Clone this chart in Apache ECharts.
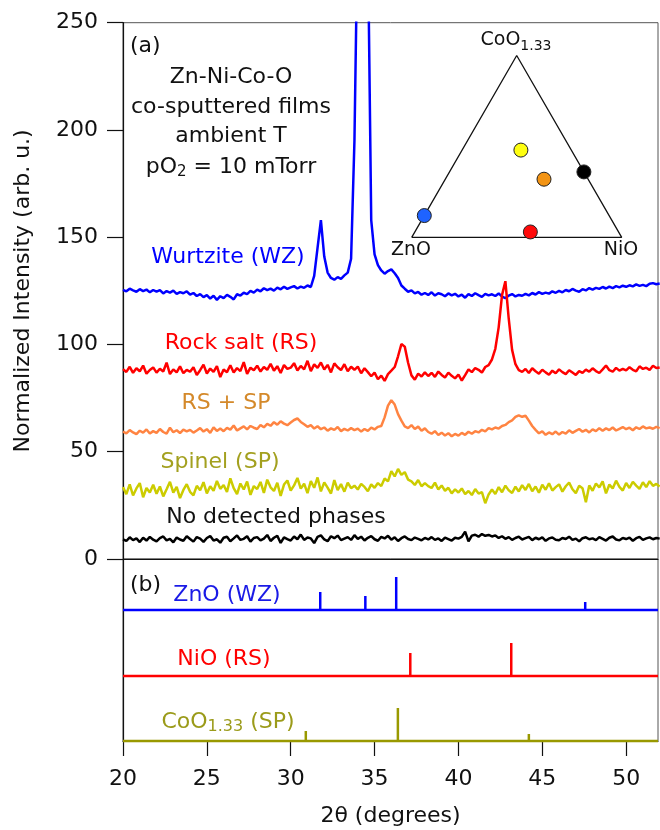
<!DOCTYPE html>
<html>
<head>
<meta charset="utf-8">
<script src="https://cdn.jsdelivr.net/npm/echarts@6.0.0/dist/echarts.min.js"></script>
<style>
html, body { margin: 0; padding: 0; background: #fff; }
#chart { width: 660px; height: 830px; }
</style>
</head>
<body>
<div id="chart"></div>
<script>
// 2theta sampling of the scans (0.2 deg steps, 20 -> 52)
var twoTheta = [];
for (var i = 0; i <= 160; i++) twoTheta.push(+(20 + i * 0.2).toFixed(1));

// (a) measured patterns, one value per 2theta step
var wzTrace = [
  125.5, 124.8, 126.0, 125.2, 124.6, 125.8, 124.9, 125.6, 124.3, 125.4,
  124.6, 125.3, 123.8, 124.9, 124.2, 125.1, 123.6, 124.4, 123.9, 124.8,
  123.2, 124.0, 122.6, 123.5, 122.1, 123.0, 121.4, 122.7, 120.8, 122.5,
  121.6, 123.1, 122.2, 121.0, 123.4, 122.8, 124.1, 123.5, 125.0, 124.2,
  125.6, 124.8, 126.2, 125.3, 126.0, 125.1, 126.5, 125.7, 126.9, 125.9,
  126.6, 127.2, 126.1, 127.0, 126.4, 127.5, 126.8, 132.0, 145.0, 158.0,
  141.0, 133.5, 131.0, 130.2, 131.4, 130.6, 132.2, 133.5, 140.0, 195.0,
  300.0, 420.0, 440.0, 290.0, 158.0, 142.0, 137.0, 134.5, 133.0, 134.2,
  135.0, 133.2, 131.0, 127.5, 126.0, 124.6, 125.2, 123.8, 124.5, 123.2,
  124.0, 123.1, 124.3, 122.8, 123.9, 123.4, 122.5, 123.8, 122.9, 123.6,
  122.4, 123.2, 121.8, 123.5, 122.6, 123.9, 123.0, 122.2, 123.6, 122.9,
  123.4, 122.6, 123.8, 122.3, 121.6, 122.8, 123.5, 122.4, 123.1, 122.7,
  123.6, 122.9, 124.0, 123.3, 124.4, 123.6, 124.2, 123.7, 124.8, 124.1,
  125.0, 124.3, 125.4, 124.8, 125.9, 125.1, 124.6, 125.8, 125.2, 126.3,
  125.6, 126.4, 125.9, 126.8, 126.1, 127.0, 126.3, 127.2, 126.6, 127.4,
  126.9, 127.6, 127.1, 128.0, 127.3, 127.8, 127.2, 128.3, 128.6, 128.1,
  128.4
];
var rsTrace = [
  88.5, 87.2, 89.6, 86.8, 88.9, 87.5, 90.2, 86.4, 88.1, 89.3,
  86.9, 88.7, 87.4, 91.5, 86.2, 88.4, 87.0, 89.8, 86.6, 88.2,
  87.3, 89.4, 85.8, 88.0, 90.6, 86.5, 88.8, 87.2, 89.9, 84.8,
  88.3, 87.1, 90.3, 86.9, 89.0, 87.6, 91.8, 86.3, 89.2, 88.0,
  90.1, 87.4, 89.5, 88.2, 91.0, 87.8, 89.9, 86.7, 90.4, 88.6,
  89.2, 91.3, 87.9, 90.0, 88.4, 92.4, 87.6, 90.7, 89.1, 91.6,
  88.3, 90.5, 87.0, 91.2, 89.4, 88.1, 90.8, 87.5, 89.6, 88.2,
  89.7, 86.6, 88.9, 87.1, 85.2, 86.9, 83.8, 85.5, 83.0, 86.2,
  87.8, 89.5, 94.5, 100.2, 99.0, 91.5, 85.6, 83.6, 86.4, 85.1,
  87.0, 85.3, 86.8, 84.9, 87.4, 85.8, 84.6, 86.9, 85.4, 84.2,
  86.0, 83.2, 85.7, 88.4, 87.1, 89.0, 88.2, 86.9, 89.5, 90.4,
  93.0, 98.0, 108.0, 123.0, 129.5, 112.0, 97.5, 90.8, 88.0, 87.2,
  88.6, 86.7, 88.9, 87.5, 86.4, 88.2, 87.0, 85.9, 87.8, 86.6,
  88.4, 87.1, 86.2, 88.0, 86.9, 85.8, 87.6, 86.8, 88.3, 87.3,
  88.9, 87.6, 86.7, 88.4, 90.2, 88.0, 87.3, 89.1, 87.8, 88.6,
  87.9, 89.4, 88.2, 87.5, 89.8, 88.6, 89.2, 88.1, 90.1, 89.0,
  89.3
];
var rsspTrace = [
  59.4, 58.6, 60.1, 59.0, 58.2, 59.8, 58.9, 60.4, 58.5, 59.6,
  58.8, 60.6, 59.2, 58.4, 61.2, 59.1, 60.0, 58.7, 60.3, 59.5,
  60.2, 58.9, 59.9, 61.0, 59.4, 60.5, 58.8, 61.4, 59.7, 60.8,
  59.6, 61.1, 60.3, 62.2, 59.9, 60.9, 61.8, 60.4, 62.0, 61.2,
  60.6, 62.5, 61.4, 63.0, 62.1, 63.8, 62.6, 64.2, 63.1, 62.4,
  63.6, 64.8, 65.5, 63.9, 62.8, 61.6, 62.4, 60.8, 61.9, 60.5,
  61.3, 59.8, 60.9, 60.2, 61.5, 59.6, 60.7, 59.9, 61.0, 60.1,
  60.8, 59.4, 60.6, 59.7, 61.2, 60.4, 61.6, 62.0, 66.0, 71.5,
  74.0, 72.0, 67.5, 64.5, 61.8, 61.0, 62.4, 60.6, 61.7, 59.8,
  60.9, 59.2, 58.4, 59.6, 57.8, 58.9, 57.6, 58.6, 57.2, 58.3,
  57.5, 58.8, 57.9, 59.3, 58.4, 59.6, 59.0, 60.2, 59.5, 61.0,
  60.4, 61.3, 60.8, 62.0, 62.5, 63.8, 64.6, 66.2, 67.0, 66.3,
  66.8, 64.5, 62.0, 60.2, 58.6, 59.5, 57.9, 59.0, 58.2, 59.4,
  58.0, 59.2, 58.4, 60.0, 58.8, 59.7, 60.6, 59.3, 60.2, 59.0,
  60.4, 59.6, 61.0, 59.8, 60.9, 60.1, 61.3, 59.9, 60.7, 61.5,
  60.5, 61.2, 60.0, 61.4, 60.6, 61.8, 60.9, 61.3, 60.7, 61.6,
  61.0
];
var spTrace = [
  33.5, 30.2, 34.8, 29.6, 32.9, 35.4, 28.8, 33.1, 31.0, 34.6,
  30.4, 33.8, 29.2, 32.5, 36.0, 30.9, 33.6, 28.4, 32.2, 34.9,
  31.3, 29.7, 34.1, 32.0, 35.8, 30.6, 33.9, 31.8, 36.4, 32.7,
  34.5, 31.2, 37.6, 33.0, 30.3, 35.2, 32.4, 36.1, 29.9, 34.0,
  32.6, 35.9, 30.8, 37.0, 33.4, 31.7, 35.5, 29.4, 34.7, 36.6,
  31.9, 34.3, 37.8, 32.8, 35.1, 30.7, 36.3, 33.2, 38.0, 31.5,
  35.7, 33.3, 30.5, 36.8, 32.1, 34.9, 31.4, 35.6, 33.0, 34.2,
  32.4, 35.0, 33.6, 31.6, 34.8, 33.2, 35.4, 34.0, 37.5, 36.2,
  41.0, 38.5, 42.0, 39.2, 40.5, 37.0, 36.2, 34.5, 36.8, 33.9,
  35.4, 34.0, 33.1, 35.6, 32.4, 34.3, 31.8, 33.2, 30.6, 32.5,
  31.0, 32.9, 30.2, 31.7, 29.8, 32.6, 30.5, 31.2, 26.0, 30.1,
  32.4, 30.3, 33.5, 31.1, 34.2, 32.0, 30.8, 33.7, 31.5, 34.4,
  32.2, 35.0, 31.6, 33.8, 30.9, 34.6, 32.3, 35.3, 31.9, 33.5,
  34.8, 31.4, 33.9, 35.6, 32.5, 30.7, 34.1, 33.0, 26.5, 34.3,
  31.8, 35.2, 33.4, 36.2, 30.6, 34.7, 32.9, 36.5, 33.6, 31.9,
  35.4, 33.1, 36.0, 34.2, 32.7, 35.8, 33.5, 36.3, 34.1, 35.0,
  33.8
];
var ndTrace = [
  9.2, 8.4, 10.1, 8.8, 9.6, 7.9, 9.9, 8.6, 10.3, 9.0,
  8.2, 9.7, 10.5, 8.7, 9.4, 7.8, 10.0, 9.1, 8.5, 10.6,
  9.3, 8.1, 10.2, 9.5, 8.0, 9.8, 10.7, 8.6, 9.2, 7.6,
  9.9, 10.4, 8.3, 9.6, 11.0, 8.9, 9.4, 10.6, 8.1, 9.8,
  10.2, 8.7, 9.5, 11.2, 8.4, 9.9, 10.8, 7.5, 10.1, 9.3,
  8.6, 10.5, 9.2, 11.4, 8.9, 10.0, 9.6, 7.4, 10.3, 11.0,
  9.1, 8.3, 10.6, 9.7, 10.9, 8.8, 9.5, 10.2, 8.9, 11.1,
  9.4, 10.4, 8.6, 9.9, 10.7, 9.2, 8.5, 10.3, 9.6, 10.8,
  9.0, 10.1, 8.4, 9.7, 10.5, 9.3, 8.8, 10.0, 9.4, 8.7,
  9.8, 9.1, 10.2, 8.9, 9.6, 8.4, 10.0, 9.3, 8.6, 9.9,
  9.5, 10.3, 12.8, 8.2, 10.9, 11.3, 10.4, 11.6, 10.8, 11.2,
  10.5, 11.0, 9.8, 10.6, 9.4, 10.2, 8.9, 9.8, 10.4, 9.1,
  9.7, 10.3, 8.8, 9.9, 9.2, 10.1, 8.5, 9.6, 10.0, 9.0,
  8.7, 9.8, 9.3, 10.4, 8.9, 9.5, 8.2, 9.7, 10.1, 9.2,
  9.6, 8.8, 10.2, 9.4, 8.6, 9.9, 10.5, 9.1, 8.7, 9.8,
  9.3, 10.0, 8.5, 9.7, 10.3, 8.9, 9.6, 10.1, 9.2, 9.8,
  9.5
];

// (b) reference stick patterns: positions (deg) and stick heights
var znoPos = [31.76, 34.45, 36.29, 47.56];
var znoH = [18, 14, 33, 8];
var nioPos = [37.13, 43.15];
var nioH = [23, 33];
var cooPos = [30.9, 36.39, 44.2];
var cooH = [10, 33, 7];
var stickBase = { zno: 131, nio: 65, coo: 0 };

// inset: film compositions as fractions [ZnO, NiO, CoO1.33]
var filmNames = ['WZ', 'SP', 'RS+SP', 'none', 'RS'];
var filmComp = [
  [0.88, 0.00, 0.12],
  [0.24, 0.28, 0.48],
  [0.21, 0.47, 0.32],
  [0.00, 0.64, 0.36],
  [0.42, 0.55, 0.03]
];
var filmColors = ['#1f63ff', '#ffff10', '#f39414', '#000000', '#ff0a0a'];

var xMin = 20, xMax = 51.9;
var xTicks = [20, 25, 30, 35, 40, 45, 50];
var FONT = 'DejaVu Sans';

function pairs(ys) {
  return twoTheta.map(function (x, k) { return [x, ys[k]]; });
}
function sticks(pos, h, base) {
  var d = [[xMin, base]];
  pos.forEach(function (p, k) {
    d.push([p, base], [p, base + h[k]], [p, base]);
  });
  d.push([xMax, base]);
  return d;
}
var R3 = Math.sqrt(3) / 2;
function tern(c) {
  return [c[1] + c[2] / 2, c[2] * R3];
}

function txt(x, y, text, color, size, align, rich) {
  var st = {
    text: text, x: x, y: y, fill: color,
    fontSize: size, fontFamily: FONT,
    align: align || 'center', verticalAlign: 'middle',
    textAlign: align || 'center', textVerticalAlign: 'middle'
  };
  if (rich) st.rich = rich;
  return { type: 'text', z: 50, style: st };
}
function subRich(size, subSize, color) {
  return {
    n: { fontSize: size, fontFamily: FONT, lineHeight: 26, fill: color },
    s: { fontSize: subSize, fontFamily: FONT, lineHeight: 14, verticalAlign: 'bottom', fill: color }
  };
}

var chart = echarts.init(document.getElementById('chart'));

var lineS = function (name, data, color, xi) {
  return {
    name: name, type: 'line', data: data, xAxisIndex: xi, yAxisIndex: xi,
    showSymbol: false, symbol: 'none', smooth: false,
    lineStyle: { color: color, width: 2.5 }, animation: false,
    clip: xi === 0
  };
};

var option = {
  backgroundColor: '#fff',
  animation: false,
  textStyle: { fontFamily: FONT },
  grid: [
    { left: 123, top: 22.7, right: 2, height: 536.3, show: true, borderColor: '#555', borderWidth: 1, containLabel: false },
    { left: 123, top: 559, right: 2, height: 182, show: true, borderColor: '#555', borderWidth: 1 },
    { left: 411.7, top: 55.5, width: 210, height: 181.9 }
  ],
  xAxis: [
    { gridIndex: 0, type: 'value', min: xMin, max: xMax,
      axisLine: { show: true, lineStyle: { color: '#111', width: 1.2 } },
      axisTick: { show: false }, axisLabel: { show: false }, splitLine: { show: false } },
    { gridIndex: 1, type: 'value', min: xMin, max: xMax,
      name: '2\u03b8 (degrees)', nameLocation: 'middle', nameGap: 64,
      nameTextStyle: { fontSize: 22, color: '#111', fontFamily: FONT },
      axisLine: { show: true, lineStyle: { color: '#111', width: 1.2 } },
      axisTick: { show: true, inside: false, length: 15, customValues: xTicks, lineStyle: { color: '#111', width: 1.2 } },
      axisLabel: { fontSize: 22, color: '#111', margin: 27, customValues: xTicks },
      splitLine: { show: false } },
    { gridIndex: 2, type: 'value', min: 0, max: 1, show: false }
  ],
  yAxis: [
    { gridIndex: 0, type: 'value', min: 0, max: 250, interval: 50,
      name: 'Normalized Intensity (arb. u.)', nameLocation: 'middle', nameGap: 89,
      nameTextStyle: { fontSize: 22, color: '#111', fontFamily: FONT },
      axisLine: { show: true, lineStyle: { color: '#111', width: 1.2 } },
      axisTick: { show: true, inside: false, length: 16, lineStyle: { color: '#111', width: 1.2 } },
      axisLabel: { fontSize: 22, color: '#111', margin: 25 },
      splitLine: { show: false } },
    { gridIndex: 1, type: 'value', min: 0, max: 182,
      axisLine: { show: true, lineStyle: { color: '#111', width: 1.2 } },
      axisTick: { show: false }, axisLabel: { show: false }, splitLine: { show: false } },
    { gridIndex: 2, type: 'value', min: 0, max: R3, show: false }
  ],
  series: [
    lineS('Wurtzite (WZ)', pairs(wzTrace), '#0000ff', 0),
    lineS('Rock salt (RS)', pairs(rsTrace), '#ff0000', 0),
    lineS('RS + SP', pairs(rsspTrace), '#ff8442', 0),
    lineS('Spinel (SP)', pairs(spTrace), '#cccc00', 0),
    lineS('No detected phases', pairs(ndTrace), '#000000', 0),
    lineS('ZnO (WZ)', sticks(znoPos, znoH, stickBase.zno), '#0000ff', 1),
    lineS('NiO (RS)', sticks(nioPos, nioH, stickBase.nio), '#ff0000', 1),
    lineS('CoO1.33 (SP)', sticks(cooPos, cooH, stickBase.coo), '#999900', 1),
    {
      type: 'line', xAxisIndex: 2, yAxisIndex: 2, symbol: 'none', clip: false,
      data: [tern([1, 0, 0]), tern([0, 1, 0]), tern([0, 0, 1]), tern([1, 0, 0])],
      lineStyle: { color: '#111', width: 1.3 }, animation: false
    },
    {
      type: 'scatter', xAxisIndex: 2, yAxisIndex: 2, symbolSize: 14, clip: false, z: 5,
      data: filmComp.map(function (c, k) {
        return { name: filmNames[k], value: tern(c), itemStyle: { color: filmColors[k], opacity: 1 } };
      }),
      itemStyle: { borderColor: '#222', borderWidth: 1, opacity: 1 }, animation: false
    }
  ],
  graphic: [
    txt(130, 46, '(a)', '#111', 22, 'left'),
    txt(231, 77, 'Zn-Ni-Co-O', '#111', 22),
    txt(231, 107, 'co-sputtered films', '#111', 22),
    txt(231, 136, 'ambient T', '#111', 22),
    txt(231, 167, '{n|pO}{s|2}{n| = 10 mTorr}', '#111', 22, 'center', subRich(22, 15, '#111')),
    txt(228, 257, 'Wurtzite (WZ)', '#0000ff', 22),
    txt(241, 343, 'Rock salt (RS)', '#ff0000', 22),
    txt(226, 403, 'RS + SP', '#d4892a', 22),
    txt(220, 462, 'Spinel (SP)', '#a3a01f', 22),
    txt(276, 517, 'No detected phases', '#111', 22),
    txt(130, 585, '(b)', '#111', 22, 'left'),
    txt(227, 595, 'ZnO (WZ)', '#1a1ae6', 22),
    txt(224, 659, 'NiO (RS)', '#ff0000', 22),
    txt(228, 722, '{n|CoO}{s|1.33}{n| (SP)}', '#9b9b1a', 22, 'center', subRich(22, 16, '#9b9b1a')),
    txt(516, 40, '{n|CoO}{s|1.33}', '#111', 19, 'center', subRich(19, 14, '#111')),
    txt(411, 250, 'ZnO', '#111', 19),
    txt(621, 250, 'NiO', '#111', 19)
  ]
};

chart.setOption(option);
</script>
</body>
</html>
